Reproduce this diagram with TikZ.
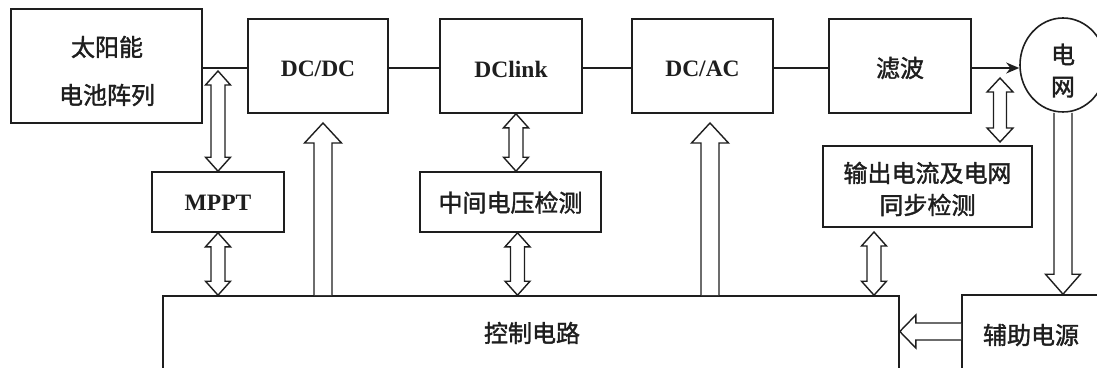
\documentclass[tikz,border=0pt]{standalone}
\usepackage{fontspec}
\setmainfont{Liberation Serif}
\newfontfamily\cjk{Noto Sans CJK SC}[FakeBold=1.6]
\usetikzlibrary{calc,arrows.meta,shapes.geometric}
\definecolor{ink}{HTML}{1E1E1E}
\newcommand\harr[5]{%
  \path ($(#2)!#5!(#1)$) coordinate (hh);
  \draw[hollow] ($(#1)!#3!90:(#2)$) -- ($(hh)!#3!90:(#2)$) -- ($(hh)!#4!90:(#2)$) -- (#2)
    -- ($(hh)!#4!-90:(#2)$) -- ($(hh)!#3!-90:(#2)$) -- ($(#1)!#3!-90:(#2)$);
}
\newcommand\dharr[5]{%
  \path ($(#2)!#5!(#1)$) coordinate (hb) ($(#1)!#5!(#2)$) coordinate (ha);
  \draw[hollow] (#1) -- ($(ha)!#4!90:(#2)$) -- ($(ha)!#3!90:(#2)$) -- ($(hb)!#3!90:(#2)$)
    -- ($(hb)!#4!90:(#2)$) -- (#2) -- ($(hb)!#4!-90:(#2)$) -- ($(hb)!#3!-90:(#2)$)
    -- ($(ha)!#3!-90:(#2)$) -- ($(ha)!#4!-90:(#2)$) -- cycle;
}
\tikzset{
  blk/.style 2 args={draw=ink, line width=1.6pt, inner sep=0pt, minimum width=#1, minimum height=#2},
  txt/.style={inner sep=0pt, text=ink},
  lat/.style={txt, font=\fontsize{23.5}{26}\selectfont\bfseries},
  zh/.style={txt, font=\cjk\fontsize{24}{32}\selectfont, align=center},
  zhwide/.style={txt, font=\cjk\fontsize{24}{48}\selectfont, align=center},
  hollow/.style={draw=ink, line width=1.4pt, line join=miter, fill=white},
  wire/.style={draw=ink, line width=1.6pt},
}
\begin{document}
\begin{tikzpicture}[x=1pt,y=-1pt]
\useasboundingbox (0,0) rectangle (1097,367);
% boxes
\node[blk={191pt}{114pt}] (solar) at (106.5,66) {};
\node[blk={140pt}{94pt}] (dcdc) at (318,66) {};
\node[blk={142pt}{94pt}] (dclink) at (511,66) {};
\node[blk={141pt}{94pt}] (dcac) at (702.5,66) {};
\node[blk={142pt}{94pt}] (filter) at (900,66) {};
\node[draw=ink, line width=1.6pt, ellipse, inner sep=0pt, minimum width=86pt, minimum height=94pt] (grid) at (1063,65) {};
\node[blk={132pt}{60pt}] (mppt) at (218,202) {};
\node[blk={181pt}{60pt}] (mid) at (510.5,202) {};
\node[blk={209pt}{81pt}] (det) at (927.5,186.5) {};
\node[blk={736pt}{74pt}] (ctrl) at (531,333) {};
\node[blk={138pt}{80pt}] (aux) at (1031,335) {};
% texts
\node[zhwide] (solarT) at (107,71) {太阳能\\电池阵列};
\node[lat] (dcdcT) at (318,69) {DC/DC};
\node[lat] (dclinkT) at (511,69) {DClink};
\node[lat] (dcacT) at (702.5,69) {DC/AC};
\node[zh] (filterT) at (900,68) {滤波};
\node[zh] (gridT) at (1063,70.5) {电\\网};
\node[lat] (mpptT) at (218,203) {MPPT};
\node[zh] (midT) at (510.5,202.5) {中间电压检测};
\node[zh] (detT) at (927.5,189) {输出电流及电网\\同步检测};
\node[zh] (ctrlT) at (532,333) {控制电路};
\node[zh] (auxT) at (1031,335) {辅助电源};
% wires
\draw[wire] ([yshift=-2pt]solar.east) -- ([yshift=-2pt]dcdc.west);
\draw[wire] ([yshift=-2pt]dcdc.east) -- ([yshift=-2pt]dclink.west);
\draw[wire] ([yshift=-2pt]dclink.east) -- ([yshift=-2pt]dcac.west);
\draw[wire] ([yshift=-2pt]dcac.east) -- ([yshift=-2pt]filter.west);
\draw[wire, -{Stealth[length=13pt,width=11pt]}] ([yshift=-2pt]filter.east) -- ([yshift=-2pt]filter.east -| grid.west);
% coordinates
\coordinate (a1) at (218,71);
\coordinate (a2) at (mppt.south |- ctrl.north);
\coordinate (b1) at ([xshift=5pt]dclink.south);
\coordinate (b2) at (b1 |- mid.north);
\coordinate (b3) at ([xshift=7pt]mid.south);
\coordinate (b4) at (b3 |- ctrl.north);
\coordinate (f1) at (1000,78);
\coordinate (f2) at (1000,142);
\coordinate (d1) at (874,232);
\coordinate (d2) at (d1 |- ctrl.north);
\coordinate (u1t) at (323,123);
\coordinate (u1b) at (u1t |- ctrl.north);
\coordinate (u2t) at (710,123);
\coordinate (u2b) at (u2t |- ctrl.north);
\coordinate (g1) at (grid.south |- aux.north);
\coordinate (h1) at ([yshift=3.5pt]aux.west);
\coordinate (h2) at (h1 -| ctrl.east);
% double hollow arrows
\dharr{a1}{mppt.north}{7pt}{12.5pt}{14pt}
\dharr{mppt.south}{a2}{7pt}{12.5pt}{14pt}
\dharr{b1}{b2}{7pt}{12.5pt}{14pt}
\dharr{b3}{b4}{7pt}{12.5pt}{14pt}
\dharr{f1}{f2}{6.5pt}{13pt}{14pt}
\dharr{d1}{d2}{7pt}{12.5pt}{14pt}
% single hollow arrows
\harr{u1b}{u1t}{9pt}{18.5pt}{20pt}
\harr{u2b}{u2t}{9pt}{18.5pt}{20pt}
\harr{grid.south}{g1}{9pt}{17.5pt}{20pt}
\harr{h1}{h2}{8.5pt}{16.5pt}{16pt}
\end{tikzpicture}
\end{document}
